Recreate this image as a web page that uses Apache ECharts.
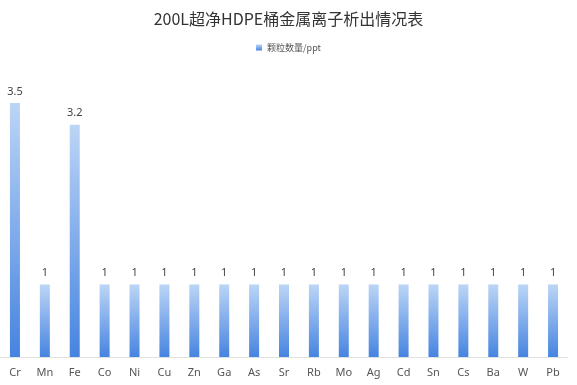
<!DOCTYPE html>
<html><head><meta charset="utf-8">
<script src="https://cdn.jsdelivr.net/npm/echarts@6/dist/echarts.min.js"></script>
<style>html,body{margin:0;padding:0;background:#fff}#c{width:577px;height:385px}</style>
</head><body><div id="c"></div>
<script>
const categories = ['Cr','Mn','Fe','Co','Ni','Cu','Zn','Ga','As','Sr','Rb','Mo','Ag','Cd','Sn','Cs','Ba','W','Pb'];
const values = [3.5,1,3.2,1,1,1,1,1,1,1,1,1,1,1,1,1,1,1,1];
const seriesName = '颗粒数量/ppt';
const titleText = '200L超净HDPE桶金属离子析出情况表';

const chart = echarts.init(document.getElementById('c'));
chart.setOption({
  animation: false,
  title: {text: titleText, left: 'center', top: 6,
    textStyle: {fontSize: 16, fontWeight: 'normal', color: '#333', fontFamily: 'Noto Sans CJK SC'}},
  legend: {top: 38, left: 'center', itemWidth: 6, itemHeight: 6, icon: 'rect', itemGap: 4,
    textStyle: {fontSize: 9, color: '#555', fontFamily: 'Noto Sans CJK SC'}},
  grid: {left: -2, right: 9, top: 103, bottom: 28, containLabel: false},
  xAxis: {type: 'category', data: categories,
    axisLine: {lineStyle: {color: '#e0e0e0'}}, axisTick: {show: false},
    axisLabel: {color: '#555', fontSize: 11, margin: 10, fontFamily: 'Noto Sans'}},
  yAxis: {type: 'value', min: 0, max: 3.5, show: false, splitLine: {show: false}},
  series: [{
    name: seriesName, type: 'bar', data: values, barWidth: 10,
    itemStyle: {color: new echarts.graphic.LinearGradient(0,0,0,1,[
      {offset: 0, color: '#bcd5f6'}, {offset: 1, color: '#4684e0'}])},
    label: {show: true, position: 'top', distance: 6, color: '#444', fontSize: 11, fontFamily: 'Noto Sans'}
  }]
});
</script></body></html>
